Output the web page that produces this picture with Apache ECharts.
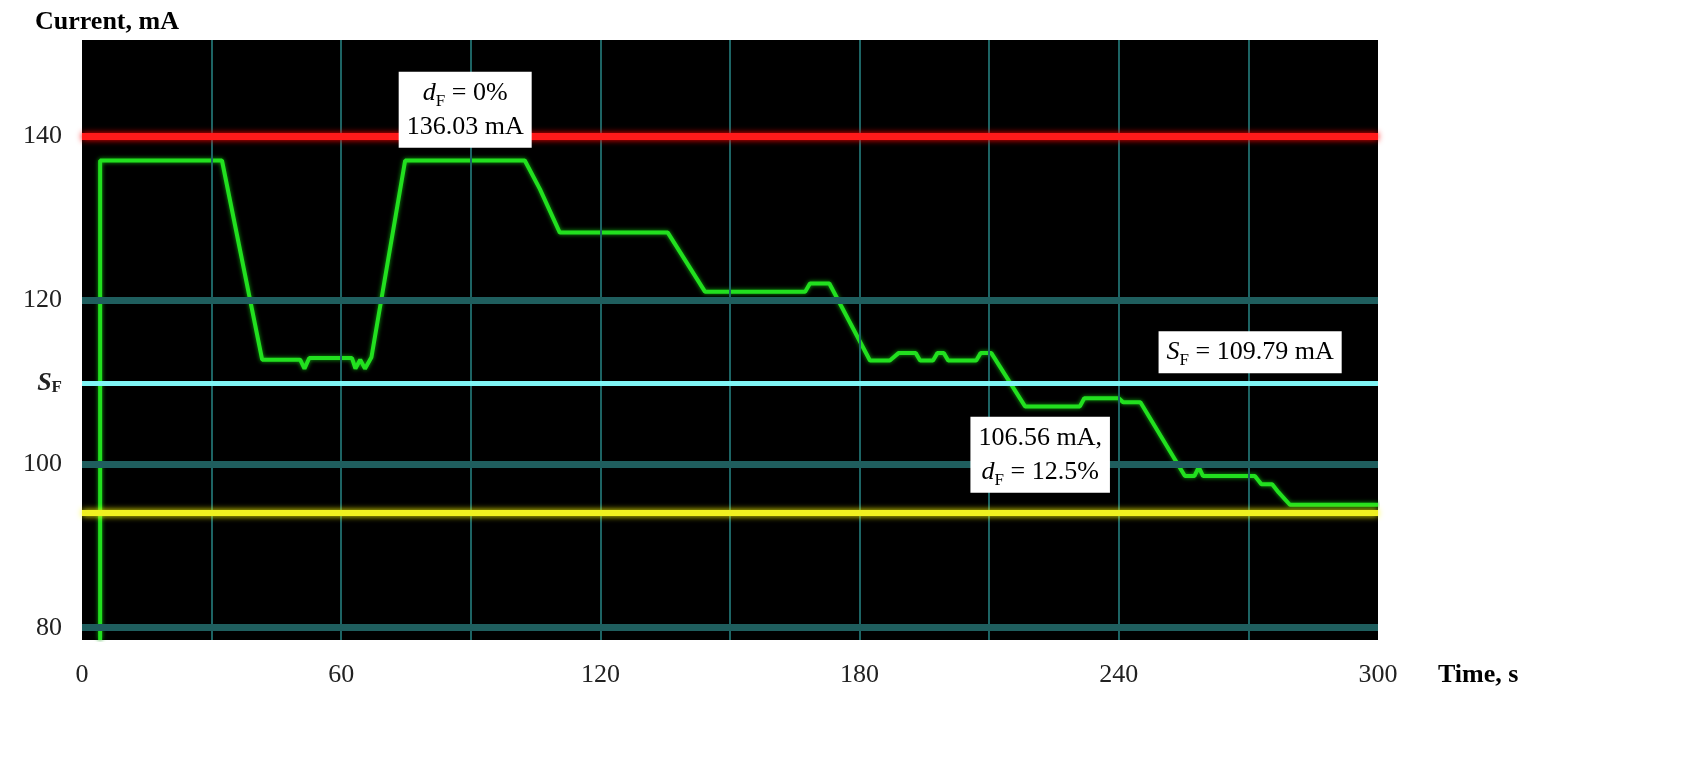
<!DOCTYPE html>
<html><head><meta charset="utf-8">
<script src="https://cdn.jsdelivr.net/npm/echarts@6/dist/echarts.min.js"></script>
<style>html,body{margin:0;background:#fff}#c{width:1697px;height:778px}</style>
</head><body><div id="c"></div>
<script>
const currentData = [
 [4.2,78.5],[4.2,137],[32.4,137],[41.7,112.7],[50.5,112.7],[51.5,111.6],[52.6,112.9],[62.5,112.9],[63.3,111.6],[64.4,112.7],[65.5,111.6],[67,113],
 [74.8,137],[102.5,137],[106,133.5],[110.6,128.2],[135.6,128.2],[144.2,121],[167.4,121],[168.5,122],[173,122],
 [182.4,112.6],[187,112.6],[189,113.5],[193,113.5],[194,112.6],[197,112.6],[198,113.5],[199.5,113.5],[200.5,112.6],[207,112.6],[208,113.5],[210.5,113.5],[218.3,107],
 [231,107],[232,108],[240,108],[241,107.5],[245,107.5],[255.3,98.5],[257.5,98.5],[258.5,99.6],[259.5,98.5],[271.5,98.5],[273,97.5],[275.5,97.5],[277,96.5],[279.6,95],[300,95]];
const yTicks = [80,100,109.79,120,140];
const xTicks = [0,60,120,180,240,300];
const vGrid = [30,60,90,120,150,180,210,240,270];
const hGrid = [80,100,120];
const redLimit = 140, sfLevel = 109.79, yellowLevel = 94;
const notes = [
 {x:88.7,y:143.2,t:'{i|d}{s|F} = 0%\n136.03 mA'},
 {x:270.4,y:113.6,t:'{i|S}{s|F} = 109.79 mA'},
 {x:221.8,y:101.1,t:'106.56 mA,\n{i|d}{s|F} = 12.5%'}
];
const serif = 'Liberation Serif';
const chart = echarts.init(document.getElementById('c'));
const ml = (arr, color, w, axis) => arr.map(v => ({[axis]: v, lineStyle:{color, width:w, type:'solid'}}));
chart.setOption({
 animation:false,
 grid:{left:82,right:319,top:40,bottom:138,backgroundColor:'#000',show:true,borderWidth:0},
 title:{text:'Current, mA',left:30,top:4,textStyle:{fontFamily:serif,fontWeight:'bold',fontSize:26,color:'#000'}},
 xAxis:{type:'value',min:0,max:300,name:'Time, s',nameLocation:'end',nameGap:60,
  nameTextStyle:{fontFamily:serif,fontWeight:'bold',fontSize:26,color:'#000',verticalAlign:'top',padding:[22,0,0,0]},
  axisLine:{show:false},axisTick:{show:false},splitLine:{show:false},
  axisLabel:{customValues:xTicks,fontFamily:serif,fontSize:26,color:'#222',margin:22}},
 yAxis:{type:'value',min:78.5,max:151.7,axisLine:{show:false},axisTick:{show:false},splitLine:{show:false},
  axisLabel:{customValues:yTicks,fontFamily:serif,fontSize:26,color:'#222',margin:20,
   formatter:v=>Math.abs(v-sfLevel)<0.01?'{b|S}{bs|F}':String(v),
   rich:{b:{fontFamily:serif,fontWeight:'bold',fontStyle:'italic',fontSize:26,color:'#222'},bs:{fontFamily:serif,fontWeight:'bold',fontSize:17,color:'#222',verticalAlign:'bottom',padding:[8,0,0,0]}}}},
 series:[
  {type:'line',data:[],silent:true,markLine:{symbol:'none',silent:true,label:{show:false},
    data:[...ml(vGrid,'#1d6464',2,'xAxis'),...ml(hGrid,'#1f5e5e',7,'yAxis'),
      {yAxis:redLimit,lineStyle:{color:'#ff1a1a',width:7,type:'solid',shadowColor:'#ff0000',shadowBlur:6}},
      {yAxis:sfLevel,lineStyle:{color:'#7ff5f5',width:5,type:'solid'}},
      {yAxis:yellowLevel,lineStyle:{color:'#f0f020',width:6,type:'solid',shadowColor:'#ffff00',shadowBlur:6}}]}},
  {type:'line',data:currentData,symbol:'none',lineStyle:{color:'#22e01f',width:4,shadowColor:'#10a010',shadowBlur:4},
   markPoint:{symbol:'rect',symbolSize:0,silent:true,z:20,
    data:notes.map(n=>({coord:[n.x,n.y],label:{formatter:n.t}})),
    label:{show:true,position:'inside',backgroundColor:'#ffffff',opacity:1,padding:[4,8],color:'#000',fontFamily:serif,fontSize:26,lineHeight:34,align:'center',
     rich:{i:{fontFamily:serif,fontStyle:'italic',fontSize:26,color:'#000'},s:{fontFamily:serif,fontSize:17,color:'#000',verticalAlign:'bottom',padding:[8,0,0,0]}}}}}
 ]
});
</script></body></html>
